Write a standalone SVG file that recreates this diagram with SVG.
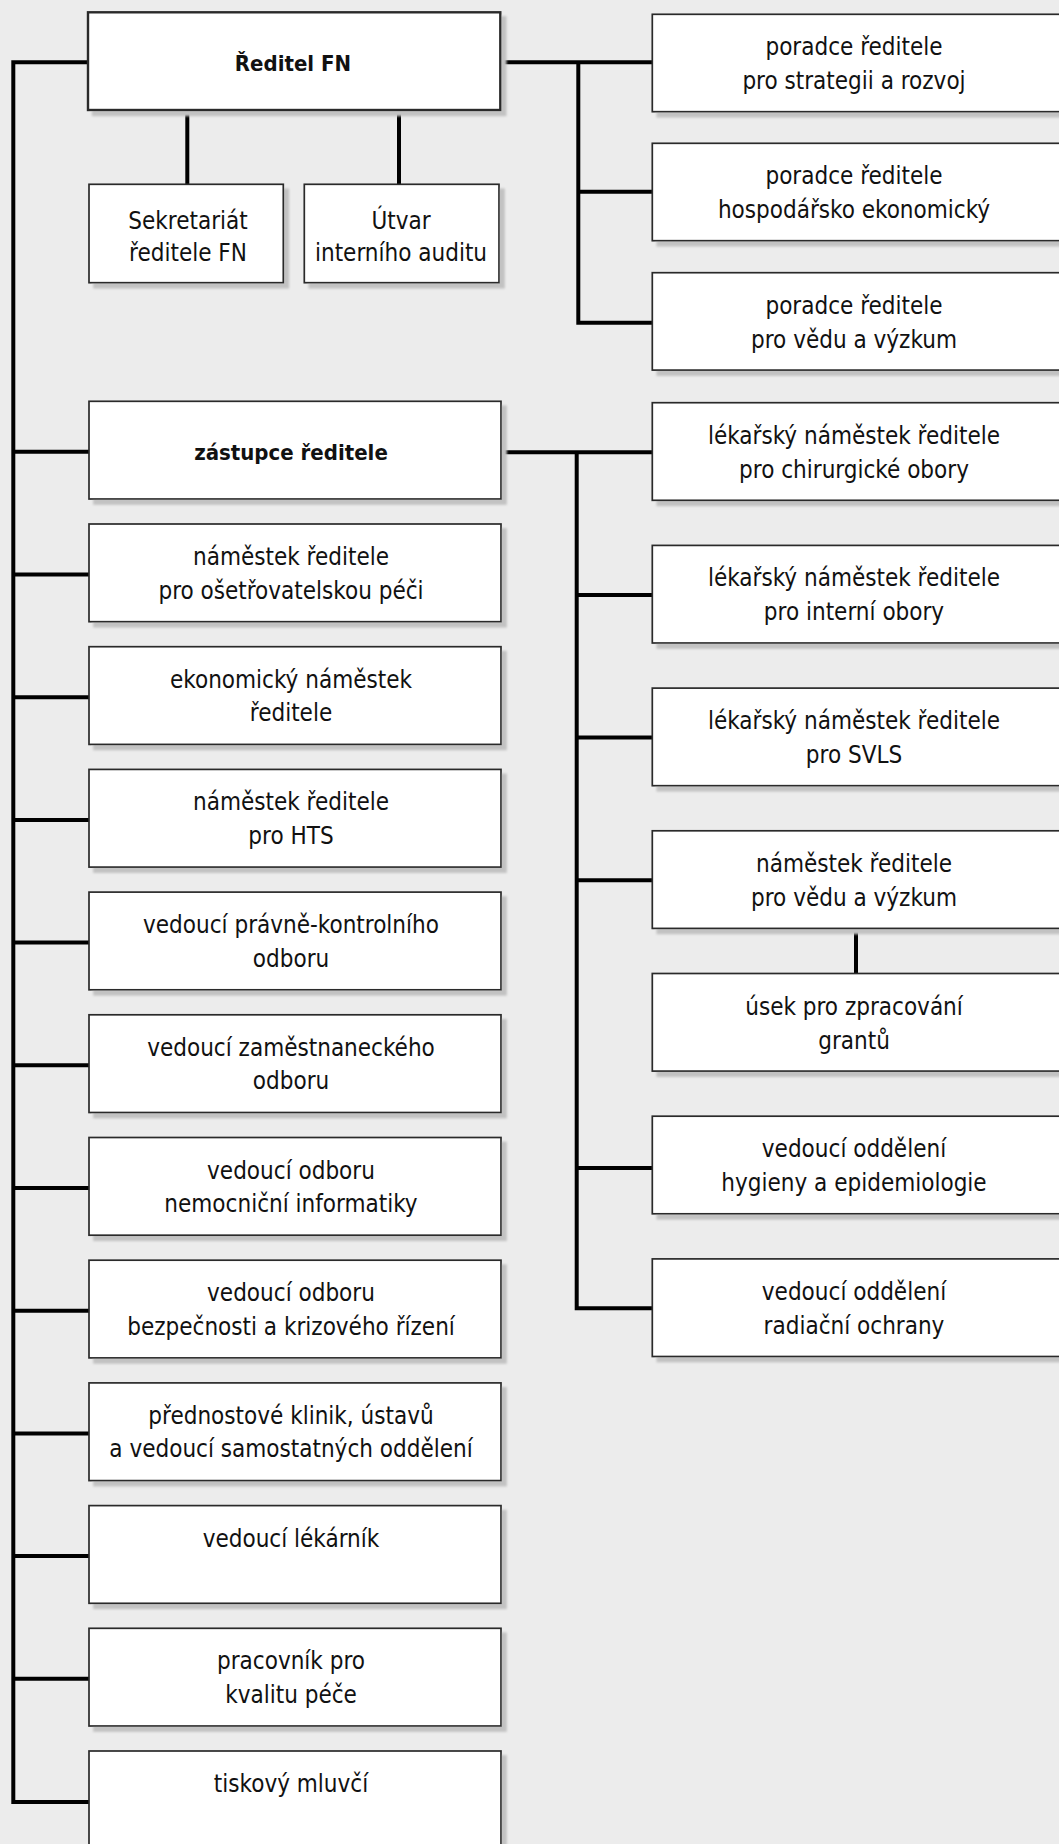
<svg xmlns="http://www.w3.org/2000/svg" width="1059" height="1844" viewBox="0 0 1059 1844">
<defs>
<filter id="sh" x="-5%" y="-10%" width="115%" height="130%">
<feDropShadow dx="5" dy="5" stdDeviation="1" flood-color="#c2c2c2" flood-opacity="1"/>
</filter>
</defs>
<style>
.box{fill:#fff;stroke:#2b2b2b;stroke-width:1.7;filter:url(#sh)}
.main{stroke-width:2.4}
.ln{fill:none;stroke:#000;stroke-width:4;stroke-linejoin:miter;stroke-linecap:butt}
text{font-family:"DejaVu Sans Condensed","DejaVu Sans",sans-serif;font-stretch:condensed;font-size:24px;fill:#111;text-anchor:middle}
.b{font-weight:bold;font-size:22px}
</style>
<rect x="0" y="0" width="1059" height="1844" fill="#ececec"/>
<g id="connectors" class="ln">
<path d="M89 62.3H13.3V1802H89"/>
<path d="M13.3 451.8H89M13.3 574.5H89M13.3 697.2H89M13.3 819.9H89M13.3 942.6H89M13.3 1065.3H89M13.3 1188H89M13.3 1310.7H89M13.3 1433.4H89M13.3 1556.1H89M13.3 1678.8H89"/>
<path d="M187.3 110V184.3M399 110V184.3"/>
<path d="M500 62.3H652.3M578.3 62.3V322.7H652.3M578.3 191.7H652.3"/>
<path d="M501 452.3H652.3M576.7 452.3V1308.3H652.3M576.7 595H652.3M576.7 737.6H652.3M576.7 880.3H652.3M576.7 1168H652.3"/>
<path d="M856 929V974"/>
</g>
<g id="reditel"><rect class="box main" x="88" y="12.3" width="412.3" height="97.7"/><text class="b" x="293" y="71">Ředitel FN</text></g>
<g id="sekretariat"><rect class="box" x="89" y="184.3" width="194.3" height="98.4"/><text x="188" y="228.5">Sekretariát<tspan x="188" y="261">ředitele FN</tspan></text></g>
<g id="audit"><rect class="box" x="304.3" y="184.3" width="194.7" height="98.4"/><text x="401" y="228.5">Útvar<tspan x="401" y="261">interního auditu</tspan></text></g>
<g id="zastupce"><rect class="box" x="89" y="401.3" width="412" height="97.7"/><text class="b" x="291" y="460">zástupce ředitele</text></g>
<g id="osetrovatelska"><rect class="box" x="89" y="524" width="412" height="97.7"/><text x="291" y="565">náměstek ředitele<tspan x="291" y="598.5">pro ošetřovatelskou péči</tspan></text></g>
<g id="ekonomicky"><rect class="box" x="89" y="646.7" width="412" height="97.7"/><text x="291" y="687.7">ekonomický náměstek<tspan x="291" y="721.2">ředitele</tspan></text></g>
<g id="hts"><rect class="box" x="89" y="769.4" width="412" height="97.7"/><text x="291" y="810.4">náměstek ředitele<tspan x="291" y="843.9">pro HTS</tspan></text></g>
<g id="pravni"><rect class="box" x="89" y="892.1" width="412" height="97.7"/><text x="291" y="933.1">vedoucí právně-kontrolního<tspan x="291" y="966.6">odboru</tspan></text></g>
<g id="zamestnanecky"><rect class="box" x="89" y="1014.8" width="412" height="97.7"/><text x="291" y="1055.8">vedoucí zaměstnaneckého<tspan x="291" y="1089.3">odboru</tspan></text></g>
<g id="informatika"><rect class="box" x="89" y="1137.5" width="412" height="97.7"/><text x="291" y="1178.5">vedoucí odboru<tspan x="291" y="1212">nemocniční informatiky</tspan></text></g>
<g id="bezpecnost"><rect class="box" x="89" y="1260.2" width="412" height="97.7"/><text x="291" y="1301.2">vedoucí odboru<tspan x="291" y="1334.7">bezpečnosti a krizového řízení</tspan></text></g>
<g id="prednostove"><rect class="box" x="89" y="1382.9" width="412" height="97.7"/><text x="291" y="1423.9">přednostové klinik, ústavů<tspan x="291" y="1457.4">a vedoucí samostatných oddělení</tspan></text></g>
<g id="lekarnik"><rect class="box" x="89" y="1505.6" width="412" height="97.7"/><text x="291" y="1546.6">vedoucí lékárník</text></g>
<g id="kvalita"><rect class="box" x="89" y="1628.3" width="412" height="97.7"/><text x="291" y="1669.3">pracovník pro<tspan x="291" y="1702.8">kvalitu péče</tspan></text></g>
<g id="mluvci"><rect class="box" x="89" y="1751" width="412" height="97.7"/><text x="291" y="1792">tiskový mluvčí</text></g>
<g id="poradce-strategie"><rect class="box" x="652.3" y="14.3" width="410" height="97.4"/><text x="854" y="55.3">poradce ředitele<tspan x="854" y="89.3">pro strategii a rozvoj</tspan></text></g>
<g id="poradce-ekonom"><rect class="box" x="652.3" y="143.3" width="410" height="97.4"/><text x="854" y="184.3">poradce ředitele<tspan x="854" y="218.3">hospodářsko ekonomický</tspan></text></g>
<g id="poradce-veda"><rect class="box" x="652.3" y="272.7" width="410" height="97.4"/><text x="854" y="313.7">poradce ředitele<tspan x="854" y="347.7">pro vědu a výzkum</tspan></text></g>
<g id="lek-chir"><rect class="box" x="652.3" y="402.7" width="410" height="97.6"/><text x="854" y="443.7">lékařský náměstek ředitele<tspan x="854" y="477.7">pro chirurgické obory</tspan></text></g>
<g id="lek-int"><rect class="box" x="652.3" y="545.4" width="410" height="97.6"/><text x="854" y="586.4">lékařský náměstek ředitele<tspan x="854" y="620.4">pro interní obory</tspan></text></g>
<g id="lek-svls"><rect class="box" x="652.3" y="688.1" width="410" height="97.6"/><text x="854" y="729.1">lékařský náměstek ředitele<tspan x="854" y="763.1">pro SVLS</tspan></text></g>
<g id="nam-veda"><rect class="box" x="652.3" y="830.8" width="410" height="97.6"/><text x="854" y="871.8">náměstek ředitele<tspan x="854" y="905.8">pro vědu a výzkum</tspan></text></g>
<g id="granty"><rect class="box" x="652.3" y="973.5" width="410" height="97.6"/><text x="854" y="1014.5">úsek pro zpracování<tspan x="854" y="1048.5">grantů</tspan></text></g>
<g id="hygiena"><rect class="box" x="652.3" y="1116.2" width="410" height="97.6"/><text x="854" y="1157.2">vedoucí oddělení<tspan x="854" y="1191.2">hygieny a epidemiologie</tspan></text></g>
<g id="radiace"><rect class="box" x="652.3" y="1258.9" width="410" height="97.6"/><text x="854" y="1299.9">vedoucí oddělení<tspan x="854" y="1333.9">radiační ochrany</tspan></text></g>
</svg>
